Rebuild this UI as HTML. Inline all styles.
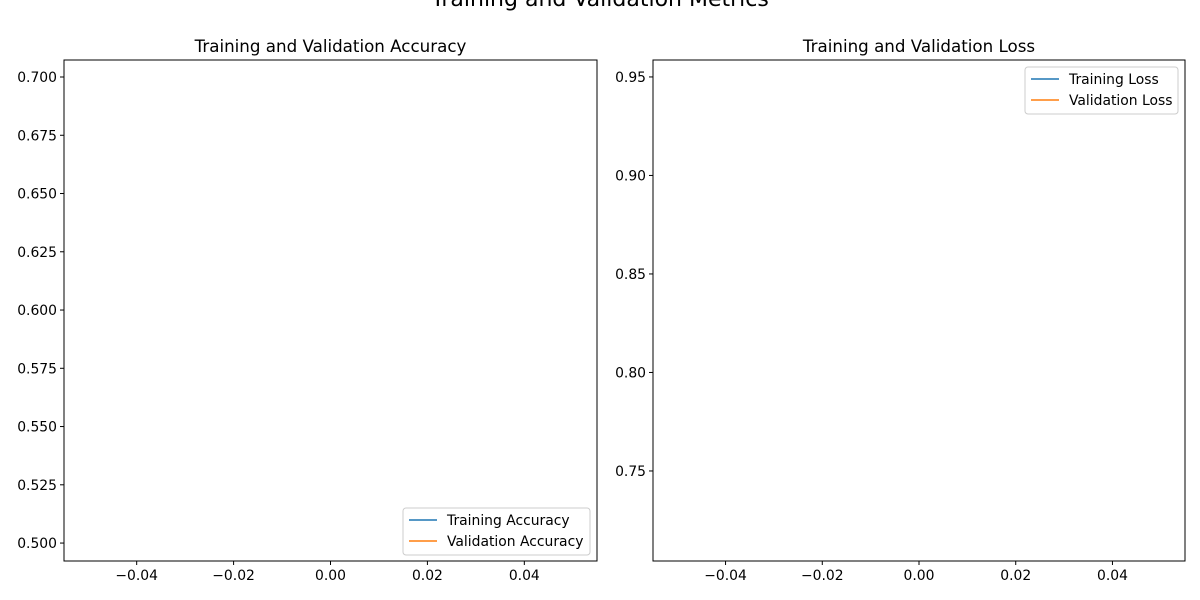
<!DOCTYPE html>
<html><head><meta charset="utf-8"><style>
body{margin:0;background:#fff;}
svg{display:block;font-family:"DejaVu Sans","Liberation Sans",sans-serif;}
</style></head><body>
<svg id="chart" width="1200" height="600" xmlns="http://www.w3.org/2000/svg">
<text x="600" y="6" text-anchor="middle" font-size="22">Training and Validation Metrics</text>
</svg>
<script>
const epochs=[0];
const trainAcc=[0.5];
const valAcc=[0.7];
const trainLoss=[0.95];
const valLoss=[0.72];
const accTicks=[0.500,0.525,0.550,0.575,0.600,0.625,0.650,0.675,0.700];
const lossTicks=[0.75,0.80,0.85,0.90,0.95];
const xTicks=[-0.04,-0.02,0.00,0.02,0.04];

const NS="http://www.w3.org/2000/svg";
const svg=document.getElementById('chart');
function el(t,a,p){const e=document.createElementNS(NS,t);for(const k in a)e.setAttribute(k,a[k]);(p||svg).appendChild(e);return e;}

function panel(o){
  const g=el('g',{});
  
  
  const L=o.x0,R=o.x1,T=60,B=561;
  const sx=v=>L+(v-(-0.055))/(0.11)*(R-L);
  const sy=v=>B-(v-o.ymin)/(o.ymax-o.ymin)*(B-T);
  const t=el('text',{x:(L+R)/2,y:52,'text-anchor':'middle','font-size':16.7},g);
  t.textContent=o.title;
  
  
  o.yt.forEach(v=>{
    const y=sy(v);
    el('line',{x1:L-4,x2:L,y1:y,y2:y,stroke:'#000','stroke-width':1},g);
    const tx=el('text',{x:L-7,y:y+5,'text-anchor':'end','font-size':13.9},g);
    tx.textContent=v.toFixed(o.dec);
    
    
  });
  xTicks.forEach(v=>{
    const x=sx(v);
    el('line',{x1:x,x2:x,y1:B,y2:B+4,stroke:'#000','stroke-width':1},g);
    const tx=el('text',{x:x,y:B+19,'text-anchor':'middle','font-size':13.9},g);
    tx.textContent=(v<0?'\u2212':'')+Math.abs(v).toFixed(2);
    
    
  });
  o.series.forEach(s=>{
    const pts=epochs.map((e,i)=>sx(e)+','+sy(s.d[i])).join(' ');
    const pl=el('polyline',{points:pts,fill:'none',stroke:s.c,'stroke-width':1.5},g);
    
    
  });
  el('rect',{x:L,y:T,width:R-L,height:B-T,fill:'none',stroke:'#000','stroke-width':1},g);
  const lg=el('g',{},g);
  
  
  el('rect',{x:o.lx,y:o.ly,width:o.lw,height:47,rx:3,fill:'#fff',stroke:'#ccc'},lg);
  o.series.forEach((s,i)=>{
    const y=o.ly+12+i*21;
    el('line',{x1:o.lx+6,x2:o.lx+34,y1:y,y2:y,stroke:s.c,'stroke-width':1.5},lg);
    const tx=el('text',{x:o.lx+44,y:y+5,'font-size':13.9},lg);
    tx.textContent=s.label;
    
    
  });
}
panel({name:'accuracy-panel',x0:64,x1:597,ymin:0.4923,ymax:0.7073,yt:accTicks,dec:3,
  title:'Training and Validation Accuracy',lx:403,ly:508,lw:187,
  series:[{d:trainAcc,c:'#1f77b4',label:'Training Accuracy',n:'training-accuracy-line'},
          {d:valAcc,c:'#ff7f0e',label:'Validation Accuracy',n:'validation-accuracy-line'}]});
panel({name:'loss-panel',x0:653,x1:1185,ymin:0.7043,ymax:0.9586,yt:lossTicks,dec:2,
  title:'Training and Validation Loss',lx:1025,ly:67,lw:153,
  series:[{d:trainLoss,c:'#1f77b4',label:'Training Loss',n:'training-loss-line'},
          {d:valLoss,c:'#ff7f0e',label:'Validation Loss',n:'validation-loss-line'}]});
</script>
</body></html>
